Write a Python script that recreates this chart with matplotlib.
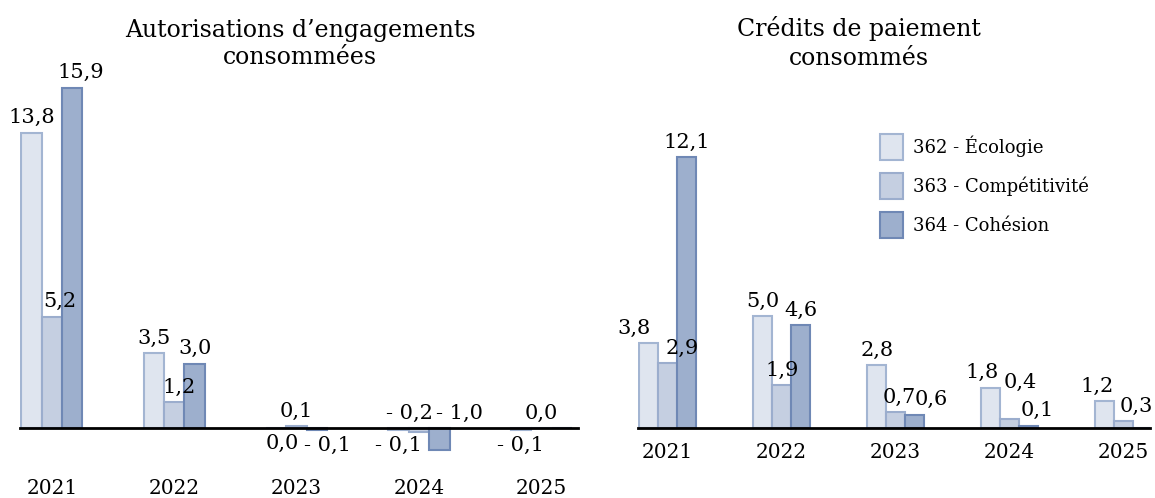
import matplotlib.pyplot as plt
import numpy as np

plt.rcParams['font.family'] = ['DejaVu Serif']

# Données (Md€)
annees = ["2021", "2022", "2023", "2024", "2025"]
series = ["362 - Écologie", "363 - Compétitivité", "364 - Cohésion"]

ae_ecologie = [13.8, 3.5, 0.0, -0.1, -0.1]
ae_competitivite = [5.2, 1.2, 0.1, -0.2, 0.0]
ae_cohesion = [15.9, 3.0, -0.1, -1.0, None]

cp_ecologie = [3.8, 5.0, 2.8, 1.8, 1.2]
cp_competitivite = [2.9, 1.9, 0.7, 0.4, 0.3]
cp_cohesion = [12.1, 4.6, 0.6, 0.1, None]

couleurs = ['#dfe5ef', '#c5cfe1', '#9dafcd']
bords = ['#a3b5d2', '#9badcd', '#6f88b5']

# placement des étiquettes comme dans l'original (série, année)
ae_haut = {(1, 3), (2, 3)}   # négatives mais écrites au-dessus
ae_bas = {(0, 2)}            # nulle mais écrite en dessous
ae_decal = {(1, 0): (8, 0), (2, 0): (8, 0), (1, 1): (5, 0), (0, 2): (6, 0),
            (2, 2): (11, 0), (1, 3): (-9, 0), (2, 3): (20, 0)}
cp_decal = {(0, 0): (-15, 0), (1, 0): (15, 0), (1, 2): (4, 0), (2, 2): (16, 0),
            (0, 3): (-9, 0), (1, 3): (11, 22), (2, 3): (9, 0), (0, 4): (-8, 0),
            (1, 4): (13, 0)}


def fmt(v):
    s = f"{abs(v):.1f}".replace(".", ",")
    return "- " + s if v < 0 else s


def barres(ax, donnees, decal, haut_force=(), bas_force=()):
    x = np.arange(len(annees))
    w = 0.167
    for i, vals in enumerate(donnees):
        v = np.array([np.nan if a is None else a for a in vals], dtype=float)
        ax.bar(x + (i - 1) * w, np.nan_to_num(v), w, color=couleurs[i],
               edgecolor=bords[i], linewidth=1.5, label=series[i], zorder=2)
        for j, val in enumerate(vals):
            if val is None:
                continue
            dx, dy = decal.get((i, j), (0, 0))
            dx, dy = dx * 0.72, dy * 0.72  # px -> pt
            haut = (val >= 0 and (i, j) not in bas_force) or (i, j) in haut_force
            if haut:
                ax.annotate(fmt(val), (x[j] + (i - 1) * w, max(val, 0)),
                            xytext=(dx, 4 + dy), textcoords='offset points',
                            ha='center', va='bottom', fontsize=15)
            else:
                ax.annotate(fmt(val), (x[j] + (i - 1) * w, min(val, 0)),
                            xytext=(dx, -4 - dy), textcoords='offset points',
                            ha='center', va='top', fontsize=15)
    ax.axhline(0, color='black', linewidth=2, zorder=3, clip_on=False)
    ax.set_xticks(x)
    ax.set_xticklabels(annees, fontsize=14.5)
    ax.tick_params(axis='x', length=0)
    ax.set_yticks([])
    for s in ax.spines.values():
        s.set_visible(False)


fig = plt.figure(figsize=(11.55, 4.98), dpi=100)
W, H = 1155, 498

# Autorisations d'engagement
ax1 = fig.add_axes([20 / W, (H - 471) / H, 558 / W, (471 - 64) / H])
barres(ax1, [ae_ecologie, ae_competitivite, ae_cohesion], ae_decal, ae_haut, ae_bas)
ax1.set_xlim(-0.26, 4.3)
ax1.set_ylim(-2, 17)
ax1.tick_params(axis='x', pad=6)

# Crédits de paiement
ax2 = fig.add_axes([638 / W, (H - 428) / H, 512 / W, (428 - 126) / H])
barres(ax2, [cp_ecologie, cp_competitivite, cp_cohesion], cp_decal)
ax2.set_xlim(-0.26, 4.23)
ax2.set_ylim(0, 13.5)
ax2.tick_params(axis='x', pad=11)

fig.text(300 / W, 1 - 44 / H, "Autorisations d’engagements\nconsommées", ha='center',
         va='center', fontsize=17, linespacing=1.25)
fig.text(859 / W, 1 - 43 / H, "Crédits de paiement\nconsommés", ha='center',
         va='center', fontsize=17, linespacing=1.3)

fig.legend(*ax2.get_legend_handles_labels(), loc='upper left',
           bbox_to_anchor=(880 / W, 1 - 134 / H), frameon=False, fontsize=13,
           borderaxespad=0, borderpad=0,
           handlelength=1.25, handleheight=1.8, labelspacing=0.75, handletextpad=0.6)

fig.savefig("out.png", dpi=100)
